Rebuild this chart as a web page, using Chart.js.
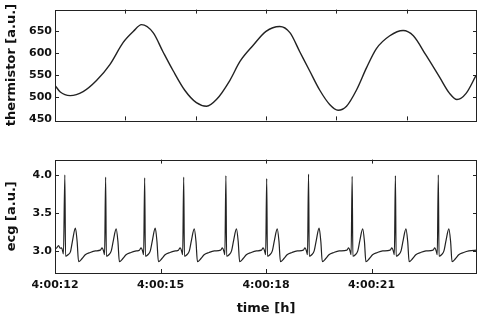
<!DOCTYPE html>
<html>
<head>
<meta charset="utf-8">
<script src="https://cdn.jsdelivr.net/npm/chart.js@4/dist/chart.umd.min.js"></script>
<style>
  html, body { margin:0; padding:0; background:#fff; }
  #wrap { position:relative; width:478px; height:318px; }
  .panel { position:absolute; left:0; width:478px; }
</style>
</head>
<body>
<div id="wrap">
  <div class="panel" style="top:0;height:130px"><canvas id="therm"></canvas></div>
  <div class="panel" style="top:150px;height:168px"><canvas id="ecg"></canvas></div>
</div>
<script>
// thermistor trace (seconds after 4:00:00, a.u.)
const thermT = [12.00, 12.15, 12.43, 12.80, 13.18, 13.56, 13.94, 14.23, 14.46, 14.79, 15.07, 15.36, 15.69, 16.02, 16.31, 16.59, 16.97, 17.26, 17.63, 18.00,
  18.39, 18.68, 18.96, 19.24, 19.53, 19.81, 20.05, 20.29, 20.57, 20.86, 21.14, 21.52, 21.90, 22.19, 22.55, 22.94, 23.22, 23.43, 23.69, 23.97];
const thermV = [527, 512, 504, 513, 538, 574, 624, 649, 664, 646, 603, 560, 516, 488, 480, 495, 538, 581, 617, 649,
  660, 646, 603, 560, 516, 484, 471, 480, 516, 567, 610, 639, 651, 639, 595, 545, 509, 495, 509, 549];

// ecg trace, one row per beat
const ecgT = [
  12.00, 12.05, 12.10, 12.15, 12.19, 12.24, 12.28, 12.30, 12.37, 12.44, 12.50, 12.58, 12.63, 12.67, 12.77, 12.86, 13.00, 13.15, 13.29,
  13.34, 13.38, 13.41, 13.44, 13.46, 13.53, 13.60, 13.66, 13.74, 13.79, 13.83, 13.93, 14.02, 14.16, 14.31, 14.40,
  14.45, 14.49, 14.52, 14.55, 14.57, 14.64, 14.71, 14.77, 14.85, 14.90, 14.94, 15.04, 15.13, 15.27, 15.42, 15.51,
  15.56, 15.60, 15.63, 15.66, 15.68, 15.75, 15.82, 15.88, 15.96, 16.01, 16.05, 16.15, 16.24, 16.38, 16.53, 16.71,
  16.76, 16.80, 16.83, 16.86, 16.88, 16.95, 17.02, 17.08, 17.16, 17.21, 17.25, 17.35, 17.44, 17.58, 17.73, 17.87,
  17.92, 17.96, 17.99, 18.02, 18.04, 18.11, 18.18, 18.24, 18.32, 18.37, 18.41, 18.51, 18.60, 18.74, 18.89, 19.06,
  19.11, 19.15, 19.18, 19.21, 19.23, 19.30, 19.37, 19.43, 19.51, 19.56, 19.60, 19.70, 19.79, 19.93, 20.08, 20.30,
  20.35, 20.39, 20.42, 20.45, 20.47, 20.54, 20.61, 20.67, 20.75, 20.80, 20.84, 20.94, 21.03, 21.17, 21.32, 21.53,
  21.58, 21.62, 21.65, 21.68, 21.70, 21.77, 21.84, 21.90, 21.98, 22.03, 22.07, 22.17, 22.26, 22.40, 22.55, 22.75,
  22.80, 22.84, 22.87, 22.90, 22.92, 22.99, 23.06, 23.12, 23.20, 23.25, 23.29, 23.39, 23.48, 23.62, 23.77, 24.00
];
const ecgV = [
  3.03, 3.04, 3.07, 3.035, 3.04, 2.96, 4.00, 2.93, 2.95, 2.99, 3.14, 3.30, 3.12, 2.86, 2.90, 2.95, 2.98, 3.00, 3.01,
  3.04, 3.00, 2.95, 3.97, 2.93, 2.95, 3.00, 3.14, 3.29, 3.12, 2.86, 2.90, 2.95, 2.98, 3.00, 3.01,
  3.04, 3.00, 2.95, 3.96, 2.93, 2.95, 3.00, 3.14, 3.30, 3.12, 2.86, 2.90, 2.95, 2.98, 3.00, 3.01,
  3.04, 3.00, 2.95, 3.97, 2.93, 2.95, 3.00, 3.14, 3.29, 3.12, 2.86, 2.90, 2.95, 2.98, 3.00, 3.01,
  3.04, 3.00, 2.95, 3.99, 2.93, 2.95, 3.00, 3.14, 3.29, 3.12, 2.86, 2.90, 2.95, 2.98, 3.00, 3.01,
  3.04, 3.00, 2.95, 3.95, 2.93, 2.95, 3.00, 3.14, 3.29, 3.12, 2.86, 2.90, 2.95, 2.98, 3.00, 3.01,
  3.04, 3.00, 2.95, 4.01, 2.93, 2.95, 3.00, 3.14, 3.30, 3.12, 2.86, 2.90, 2.95, 2.98, 3.00, 3.01,
  3.04, 3.00, 2.95, 3.98, 2.93, 2.95, 3.00, 3.14, 3.29, 3.12, 2.86, 2.90, 2.95, 2.98, 3.00, 3.01,
  3.04, 3.00, 2.95, 3.99, 2.93, 2.95, 3.00, 3.14, 3.29, 3.12, 2.86, 2.90, 2.95, 2.98, 3.00, 3.01,
  3.04, 3.00, 2.95, 4.00, 2.93, 2.95, 3.00, 3.14, 3.29, 3.12, 2.86, 2.90, 2.95, 2.98, 3.00, 3.01
];

const thermTicks = [450, 500, 550, 600, 650];
const ecgTicks = [3.0, 3.5, 4.0];
const timeTicks = [12, 15, 18, 21];
const topTimeTicks = [14, 16, 18, 20, 22];

Chart.defaults.font.family = 'DejaVu Sans';
Chart.defaults.font.weight = 'bold';
Chart.defaults.color = '#111';

// matlab style box with inward ticks on all four sides
const boxTicks = {
  id: 'boxTicks',
  afterDraw(chart, args, opts) {
    const ctx = chart.ctx, a = chart.chartArea;
    const xs = chart.scales.x, ys = chart.scales.y;
    const len = 4;
    ctx.save();
    ctx.strokeStyle = '#222';
    ctx.lineWidth = 1;
    ctx.strokeRect(Math.round(a.left) + 0.5, Math.round(a.top) + 0.5, Math.round(a.right - a.left) - 1, Math.round(a.bottom - a.top));
    ctx.beginPath();
    opts.xTicks.forEach(v => {
      const px = Math.round(xs.getPixelForValue(v)) + 0.5;
      if (px <= a.left + 1 || px >= a.right - 1) return;
      ctx.moveTo(px, a.bottom); ctx.lineTo(px, a.bottom - len);
      ctx.moveTo(px, a.top); ctx.lineTo(px, a.top + len);
    });
    opts.yTicks.forEach(v => {
      const py = Math.round(ys.getPixelForValue(v)) + 0.5;
      if (py <= a.top + 1 || py >= a.bottom - 1) return;
      ctx.moveTo(a.left, py); ctx.lineTo(a.left + len, py);
      ctx.moveTo(a.right, py); ctx.lineTo(a.right - len, py);
    });
    ctx.stroke();
    ctx.restore();
  }
};

const pad2 = n => (n < 10 ? '0' : '') + n;

function panel(id, cfg) {
  return new Chart(document.getElementById(id), {
    type: 'line',
    data: { datasets: [{
      data: cfg.t.map((t, i) => ({ x: t, y: cfg.v[i] })),
      borderColor: '#222', borderWidth: cfg.lw, pointRadius: 0,
      cubicInterpolationMode: 'monotone', fill: false
    }]},
    options: {
      responsive: true, maintainAspectRatio: false, animation: false,
      layout: { padding: { left: 4, right: 1, top: cfg.padTop, bottom: 0 } },
      plugins: { legend: { display: false }, tooltip: { enabled: false },
        boxTicks: { xTicks: cfg.xTicks, yTicks: cfg.yTicks } },
      scales: {
        x: {
          type: 'linear', min: 12, max: 24,
          grid: { display: false, drawTicks: false }, border: { display: false },
          afterBuildTicks: s => { s.ticks = cfg.xTicks.map(v => ({ value: v })); },
          afterFit: s => { s.height = cfg.xHeight; },
          ticks: { display: cfg.xLabels, padding: 6, maxRotation: 0, autoSkip: false,
            font: { size: 11 }, callback: v => '4:00:' + pad2(v) },
          title: { display: cfg.xLabels, text: 'time [h]', font: { size: 13 }, padding: { top: 2, bottom: 2 } }
        },
        y: {
          min: cfg.yMin, max: cfg.yMax,
          grid: { display: false, drawTicks: false }, border: { display: false },
          afterBuildTicks: s => { s.ticks = cfg.yTicks.map(v => ({ value: v })); },
          afterFit: s => { s.width = 51; },
          ticks: { padding: 3, font: { size: 11 }, callback: cfg.yFmt },
          title: { display: true, text: cfg.yTitle, font: { size: 13 }, padding: 0 }
        }
      }
    },
    plugins: [boxTicks]
  });
}

panel('therm', { t: thermT, v: thermV, lw: 1.4, padTop: 6, xHeight: 8, xLabels: false, xTicks: topTimeTicks,
  yMin: 448, yMax: 698, yTicks: thermTicks, yTitle: 'thermistor [a.u.]', yFmt: v => String(v) });
panel('ecg', { t: ecgT, v: ecgV, lw: 1.2, padTop: 8, xHeight: 45, xLabels: true, xTicks: timeTicks,
  yMin: 2.71, yMax: 4.2, yTicks: ecgTicks, yTitle: 'ecg [a.u.]', yFmt: v => v.toFixed(1) });
</script>
</body>
</html>
